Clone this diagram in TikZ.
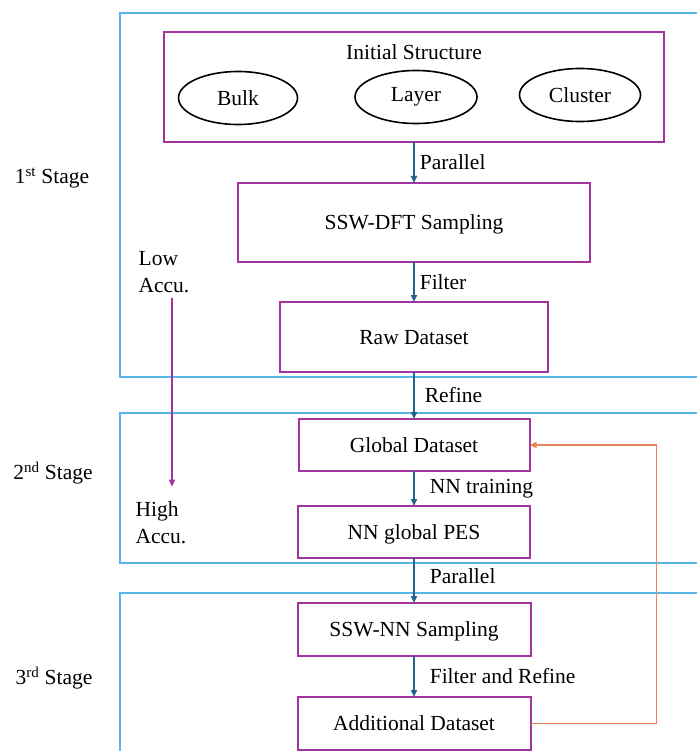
\documentclass[tikz,border=0pt]{standalone}
\usepackage{fontspec}
\setmainfont{Liberation Serif}
\usetikzlibrary{arrows.meta,positioning,shapes.geometric}

\definecolor{stageblue}{RGB}{86,182,230}
\definecolor{boxpurple}{RGB}{163,52,160}
\definecolor{flowblue}{RGB}{36,98,140}
\definecolor{looporange}{RGB}{232,134,88}

\begin{document}
\begin{tikzpicture}[
    x=1pt, y=-1pt,
    font=\fontsize{21.5}{27}\selectfont,
    stagebox/.style={draw=stageblue, line width=2pt},
    procbox/.style={draw=boxpurple, line width=2pt, inner sep=0pt, outer sep=0pt, text depth=0pt},
    shapeell/.style={draw, ellipse, line width=1.6pt, minimum width=119pt, minimum height=53pt, inner sep=0pt},
    arr/.style={-{Triangle[length=7pt,width=6pt]}, color=flowblue, line width=1.6pt},
    accarr/.style={-{Triangle[length=7pt,width=6pt]}, color=boxpurple, line width=1.4pt},
    looparr/.style={-{Triangle[length=7pt,width=6pt]}, color=looporange, line width=1.4pt},
    lbl/.style={right, inner sep=0pt, xshift=5pt, text=black}
]
    \useasboundingbox (0,0) rectangle (697,751);

    % Stage frames, open to the right
    \draw[stagebox] (697,13) -| (120,377) -- (697,377);
    \draw[stagebox] (697,413) -| (120,563) -- (697,563);
    \draw[stagebox] (697,593) -| (120,751);

    \node (st1) at (52,178) {1\textsuperscript{st} Stage};
    \node (st2) at (53,473) {2\textsuperscript{nd} Stage};
    \node (st3) at (54,678) {3\textsuperscript{rd} Stage};

    % Initial structures
    \node[procbox, minimum width=500pt, minimum height=110pt] (init) at (414,87) {};
    \node[anchor=base] (inittitle) at ([yshift=-28pt]init.north) {Initial Structure};
    \node[shapeell] (bulk) at (238,98) {Bulk};
    \node[shapeell, minimum width=122pt] (layer) at (416,97) {Layer};
    \node[shapeell, minimum width=121pt] (cluster) at (580,95) {Cluster};

    % Main flow
    \node[procbox, minimum width=352pt, minimum height=79pt, below=41pt of init] (ssw) {SSW-DFT Sampling};
    \node[procbox, minimum width=268pt, minimum height=70pt, below=40pt of ssw] (raw) {Raw Dataset};
    \node[procbox, minimum width=231pt, minimum height=52pt, below=47pt of raw] (global) {Global Dataset};
    \node[procbox, minimum width=232pt, minimum height=52pt, below=35pt of global] (nnpes) {NN global PES};
    \node[procbox, minimum width=233pt, minimum height=53pt, below=45pt of nnpes] (sswnn) {SSW-NN Sampling};
    \node[procbox, minimum width=233pt, minimum height=53pt, below=41pt of sswnn] (add) {Additional Dataset};

    \draw[arr] (init) -- node[lbl] {Parallel} (ssw);
    \draw[arr] (ssw) -- node[lbl] {Filter} (raw);
    \draw[arr] (raw) -- node[lbl, xshift=5pt] {Refine} (global);
    \draw[arr] (global) -- node[lbl, xshift=10pt] {NN training} (nnpes);
    \draw[arr] (nnpes) -- node[lbl, xshift=10pt, pos=0.4] {Parallel} (sswnn);
    \draw[arr] (sswnn) -- node[lbl, xshift=10pt] {Filter and Refine} (add);

    % Feedback of new data
    \draw[looparr] (add.east) -- ++(126,0) |- (global.east);

    % Accuracy trend
    \node[align=left, inner sep=0pt] (low) at (164,272) {Low\\Accu.};
    \node[align=left, inner sep=0pt] (high) at (161,523) {High\\Accu.};
    \coordinate (accx) at (172,0);
    \draw[accarr, shorten <=5pt, shorten >=15pt] (low.south -| accx) -- (high.north -| accx);
\end{tikzpicture}
\end{document}
